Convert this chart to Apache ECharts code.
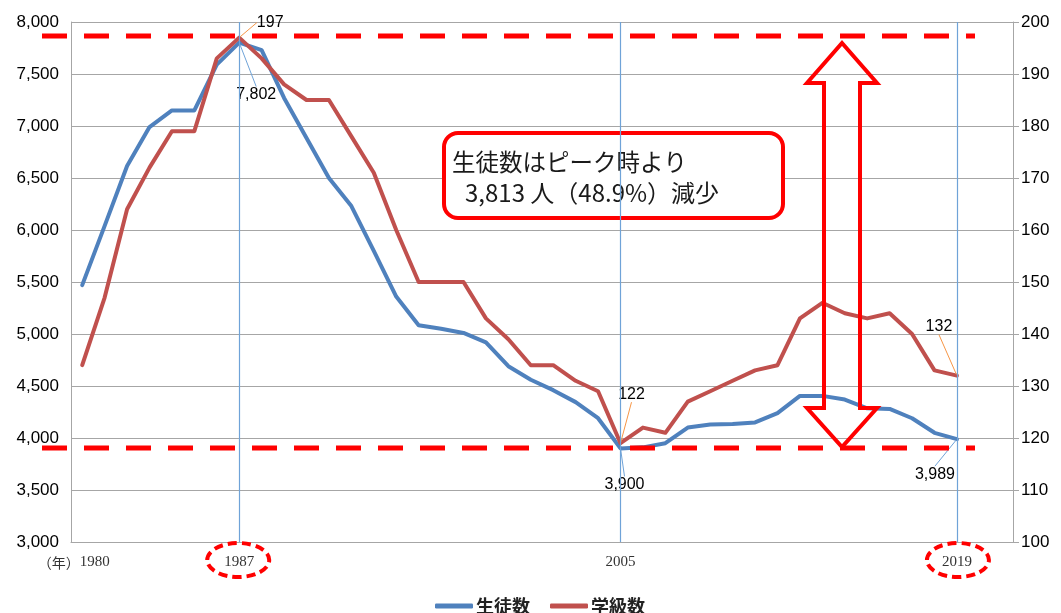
<!DOCTYPE html>
<html><head><meta charset="utf-8">
<script src="https://cdn.jsdelivr.net/npm/echarts@6/dist/echarts.min.js"></script>
<style>html,body{margin:0;padding:0;background:#fff}#c{width:1061px;height:613px}</style>
</head><body><div id="c"></div>
<script>
// ---- data ----
const years = ['1980','1981','1982','1983','1984','1985','1986','1987','1988','1989',
  '1990','1991','1992','1993','1994','1995','1996','1997','1998','1999',
  '2000','2001','2002','2003','2004','2005','2006','2007','2008','2009',
  '2010','2011','2012','2013','2014','2015','2016','2017','2018','2019','2020','2021'];
const students = [5470,6040,6615,6990,7150,7150,7590,7802,7730,7270,
  6885,6500,6230,5800,5360,5085,5050,5010,4920,4690,
  4560,4460,4345,4190,3900,3910,3950,4100,4130,4135,
  4150,4240,4405,4405,4370,4285,4280,4190,4050,3989];
const classes = [134,147,164,172,179,179,193,197,193,188,
  185,185,178,171,160,150,150,150,143,139,
  134,134,131,129,119,122,121,127,129,131,
  133,134,143,146,144,143,144,140,133,132];
const xTickLabels = {0:'1980', 7:'1987', 24:'2005', 39:'2019'};
const yearUnit = '（年）';
const markedIdx = [7, 24, 39];
const studentLabelText = ['7,802', '3,900', '3,989'];
const classLabelText = ['197', '122', '132'];
const seriesNames = ['生徒数', '学級数'];
const calloutLines = ['生徒数はピーク時より', '3,813 人（48.9%）減少'];

// ---- styles ----
const BLUE = '#4F81BD', RED = '#C0504D', GRID = '#A6A6A6', VLINE = '#6FA3D8';
const studentOffsets = {7:[17,38], 24:[4,22], 39:[-22,21]};
const classOffsets = {7:[31,-1], 24:[11,-35], 39:[-18,-35]};

function withLabels(vals, texts, color) {
  return vals.map((v, i) => {
    const k = markedIdx.indexOf(i);
    if (k < 0) return v;
    return { value: v, symbol: 'circle', symbolSize: 2, itemStyle: {color: color},
             label: { show: true, formatter: texts[k] } };
  });
}

const chart = echarts.init(document.getElementById('c'), null, {renderer: 'canvas'});
const labelFont = {fontFamily: 'Liberation Sans', fontSize: 16, color: '#000'};

const option = {
  animation: false,
  backgroundColor: '#fff',
  grid: {left: 71, right: 48, top: 22, bottom: 71},
  legend: {
    data: seriesNames,
    left: 430, top: 592,
    itemWidth: 38, itemHeight: 5, itemGap: 20,
    icon: 'roundRect',
    textStyle: {fontFamily: 'Noto Sans CJK JP', fontSize: 18, fontWeight: 'bold', color: '#222', padding: [0,0,0,-2]}
  },
  xAxis: {
    type: 'category', data: years, boundaryGap: true,
    axisLine: {lineStyle: {color: GRID, width: 1}},
    axisTick: {show: false},
    axisLabel: {
      interval: 0, margin: 13,
      fontFamily: 'Liberation Serif', fontSize: 15, color: '#333',
      formatter: (v, i) => i === 0 ? '{y|' + yearUnit + '}{a|' + xTickLabels[0] + '}' : (xTickLabels[i] || ''),
      rich: {
        y: {fontFamily: 'Noto Sans CJK JP', fontSize: 14, color: '#333'},
        a: {fontFamily: 'Liberation Serif', fontSize: 15, color: '#333', padding: [0, 17, 0, 0]}
      }
    },
    splitLine: {show: false}
  },
  yAxis: [
    {
      type: 'value', min: 3000, max: 8000, interval: 500,
      axisLine: {show: true, lineStyle: {color: GRID}},
      axisTick: {show: false},
      axisLabel: {margin: 12, fontFamily: 'Liberation Sans', fontSize: 17, color: '#000'},
      splitLine: {lineStyle: {color: GRID, width: 1}}
    },
    {
      type: 'value', min: 100, max: 200, interval: 10,
      axisLine: {show: true, lineStyle: {color: GRID}},
      axisTick: {show: true, length: 6, lineStyle: {color: GRID}},
      axisLabel: {margin: 8, fontFamily: 'Liberation Sans', fontSize: 17, color: '#000'},
      splitLine: {show: false}
    }
  ],
  series: [
    {
      name: seriesNames[0], type: 'line', yAxisIndex: 0,
      data: withLabels(students, studentLabelText, BLUE),
      symbol: 'none', showSymbol: true, z: 3,
      color: BLUE,
      lineStyle: {color: BLUE, width: 4, join: 'round', cap: 'round'},
      label: Object.assign({show: false, position: 'bottom', distance: 5}, labelFont),
      labelLine: {show: true, lineStyle: {color: VLINE, width: 1}},
      labelLayout: p => { const o = studentOffsets[p.dataIndex]; return o ? {dx: o[0], dy: o[1]} : {}; },
      markLine: {
        silent: true, symbol: 'none', label: {show: false},
        lineStyle: {color: VLINE, width: 1.2, type: 'solid'},
        emphasis: {disabled: true},
        data: markedIdx.map(i => ({xAxis: years[i]}))
      }
    },
    {
      name: seriesNames[1], type: 'line', yAxisIndex: 1,
      data: withLabels(classes, classLabelText, RED),
      symbol: 'none', showSymbol: true, z: 4,
      color: RED,
      lineStyle: {color: RED, width: 4, join: 'round', cap: 'round'},
      label: Object.assign({show: false, position: 'top', distance: 5}, labelFont),
      labelLine: {show: true, lineStyle: {color: '#F79646', width: 1}},
      labelLayout: p => { const o = classOffsets[p.dataIndex]; return o ? {dx: o[0], dy: o[1]} : {}; }
    }
  ]
};
chart.setOption(option);

// ---- annotations ----
const x1987 = chart.convertToPixel({xAxisIndex: 0}, years[7]);
const x2019 = chart.convertToPixel({xAxisIndex: 0}, years[39]);
const dashStyle = {stroke: '#FF0000', lineWidth: 5, lineDash: [25, 17]};
const arrowPts = [[842,43],[877,83],[860,83],[860,408],[877,408],[842,447],[807,408],[824,408],[824,83],[807,83]];
chart.setOption({
  graphic: [
    {type: 'line', z: 10, shape: {x1: 42, y1: 36, x2: 975, y2: 36}, style: dashStyle},
    {type: 'line', z: 10, shape: {x1: 42, y1: 448, x2: 975, y2: 448}, style: dashStyle},
    {type: 'rect', z: 1, shape: {x: 444, y: 133, width: 339, height: 85, r: 14},
      style: {fill: '#fff', stroke: '#FF0000', lineWidth: 4}},
    {type: 'text', z: 2, x: 452, y: 162, style: {text: calloutLines[0], fontFamily: 'Noto Sans CJK JP', fontSize: 23.5, fill: '#1a1a1a', verticalAlign: 'middle'}},
    {type: 'text', z: 2, x: 465, y: 193, style: {text: calloutLines[1], fontFamily: 'Noto Sans CJK JP', fontSize: 24, fill: '#1a1a1a', verticalAlign: 'middle'}},
    {type: 'polygon', z: 10, shape: {points: arrowPts}, style: {fill: null, stroke: '#FF0000', lineWidth: 4, lineJoin: 'miter'}},
    {type: 'ellipse', z: 10, shape: {cx: x1987 - 1, cy: 560, rx: 31, ry: 17}, style: {fill: null, stroke: '#FF0000', lineWidth: 4, lineDash: [9, 5]}},
    {type: 'ellipse', z: 10, shape: {cx: x2019 + 1, cy: 560, rx: 31, ry: 17}, style: {fill: null, stroke: '#FF0000', lineWidth: 4, lineDash: [9, 5]}}
  ]
});
</script></body></html>
